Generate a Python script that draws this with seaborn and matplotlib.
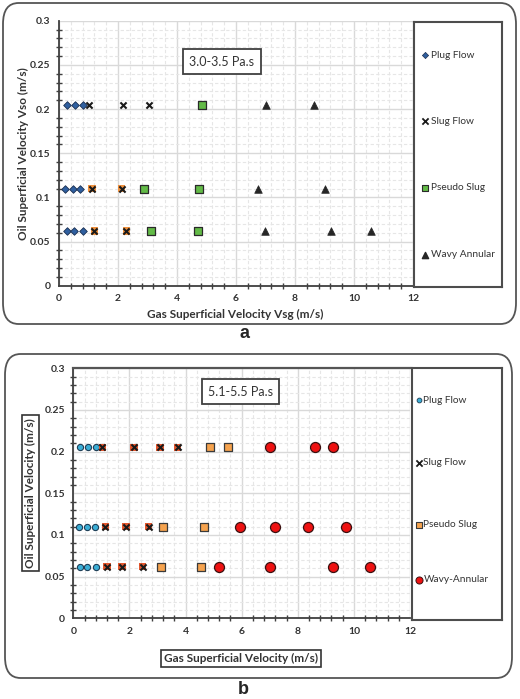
import matplotlib
matplotlib.use("Agg")
import matplotlib.pyplot as plt
import seaborn as sns
import pandas as pd
from matplotlib.patches import FancyBboxPatch
from matplotlib.ticker import MultipleLocator

sns.set_style("white")
plt.rcParams['font.family'] = ['Lato', 'DejaVu Sans']

# ---- data: panel a (3.0-3.5 Pa.s) ----
a_plug_x = [0.28, 0.54, 0.81, 0.21, 0.47, 0.72, 0.26, 0.51, 0.82]
a_plug_y = [0.205, 0.205, 0.205, 0.11, 0.11, 0.11, 0.062, 0.062, 0.062]
a_slug_x = [1.03, 2.16, 3.05, 1.12, 2.12, 1.20, 2.28]
a_slug_y = [0.205, 0.205, 0.205, 0.11, 0.11, 0.062, 0.062]
a_slug_filled = [False, False, False, True, True, True, True]
a_pseudo_x = [4.86, 2.87, 4.76, 3.12, 4.70]
a_pseudo_y = [0.205, 0.11, 0.11, 0.062, 0.062]
a_wavy_x = [7.03, 8.64, 6.73, 9.02, 6.99, 9.22, 10.57]
a_wavy_y = [0.205, 0.205, 0.11, 0.11, 0.062, 0.062, 0.062]

# ---- data: panel b (5.1-5.5 Pa.s) ----
b_plug_x = [0.24, 0.53, 0.82, 0.20, 0.48, 0.76, 0.24, 0.50, 0.82]
b_plug_y = [0.205, 0.205, 0.205, 0.11, 0.11, 0.11, 0.062, 0.062, 0.062]
b_slug_x = [1.03, 2.16, 3.09, 3.72, 1.14, 1.88, 2.69, 1.20, 1.74, 2.47]
b_slug_y = [0.205, 0.205, 0.205, 0.205, 0.11, 0.11, 0.11, 0.062, 0.062, 0.062]
b_slug_filled = [True] * 10
b_pseudo_x = [4.87, 5.51, 3.21, 4.66, 3.11, 4.54]
b_pseudo_y = [0.205, 0.205, 0.11, 0.11, 0.062, 0.062]
b_wavy_x = [7.02, 8.63, 9.26, 5.94, 7.18, 8.38, 9.72, 5.19, 7.01, 9.24, 10.58]
b_wavy_y = [0.205, 0.205, 0.205, 0.11, 0.11, 0.11, 0.11, 0.062, 0.062, 0.062, 0.062]

labels_a = ["Plug Flow", "Slug Flow", "Pseudo Slug", "Wavy Annular"]
labels_b = ["Plug Flow", "Slug Flow", "Pseudo Slug", "Wavy-Annular"]

fig = plt.figure(figsize=(5.2, 6.99), dpi=100)

W, H = 520, 699


def fx(px):
    return px / W


def fy(py):
    return 1 - py / H


# rounded outer boxes
for (x0, y0, x1, y1) in [(3, 3, 516, 324), (5, 354, 512, 678)]:
    box = FancyBboxPatch((fx(x0), fy(y1)), fx(x1 - x0), (y1 - y0) / H,
                         boxstyle="round,pad=0,rounding_size=0.03",
                         transform=fig.transFigure, fill=False,
                         edgecolor="#555555", linewidth=1.3, zorder=0)
    fig.patches.append(box)


def slug_plot(ax, xs, ys, filled, fill_color, size):
    df = pd.DataFrame({"x": xs, "y": ys, "f": filled})
    sub = df[df["f"]]
    if len(sub):
        sns.scatterplot(data=sub, x="x", y="y", marker="s", s=size,
                        color=fill_color, edgecolor="none", ax=ax, zorder=3)
    sns.scatterplot(data=df, x="x", y="y", marker="x", s=size * 0.7,
                    color="#1a1a1a", linewidth=1.5, ax=ax, zorder=4)


def style_axes(ax, x_lab, y_lab, boxed):
    ax.set_xlim(0, 12)
    ax.set_ylim(0, 0.3)
    ax.xaxis.set_major_locator(MultipleLocator(2))
    ax.xaxis.set_minor_locator(MultipleLocator(0.4))
    ax.yaxis.set_minor_locator(MultipleLocator(0.01))
    ax.set_yticks([0, 0.05, 0.1, 0.15, 0.2, 0.25, 0.3])
    ax.set_yticklabels(["0", "0.05", "0.1", "0.15", "0.2", "0.25", "0.3"])
    ax.grid(True, which="major", color="#d9d9d9", linewidth=1.0)
    ax.grid(True, which="minor", color="#e6e6e6", linewidth=0.8, linestyle=(0, (3, 2)))
    ax.set_axisbelow(True)
    for s in ["top", "right"]:
        ax.spines[s].set_visible(False)
    for s in ["left", "bottom"]:
        ax.spines[s].set_color("#404040")
        ax.spines[s].set_linewidth(1.3)
    ax.tick_params(which="major", direction="inout", length=6, width=1.1,
                   color="#404040", labelsize=7.5, pad=3)
    ax.tick_params(which="minor", direction="inout", length=4, width=1.0,
                   color="#404040", left=True, bottom=True)
    for t in ax.get_xticklabels() + ax.get_yticklabels():
        t.set_fontweight("bold")
        t.set_color("#333333")
    bbox = dict(boxstyle="square,pad=0.25", fc="white", ec="#333333", lw=1.2) if boxed else None
    ax.set_xlabel(x_lab, fontsize=8.5, fontweight="bold", color="#333333", bbox=bbox)
    ax.set_ylabel(y_lab, fontsize=8.5, fontweight="bold", color="#333333", bbox=bbox)


def legend_box(rect, entries, ys, mx, tx):
    lax = fig.add_axes(rect)
    lax.set_xlim(0, 1)
    lax.set_ylim(0, 1)
    lax.set_xticks([])
    lax.set_yticks([])
    for s in lax.spines.values():
        s.set_color("#4d4d4d")
        s.set_linewidth(1.5)
    for (lab, draw), yy in zip(entries, ys):
        draw(lax, mx, yy)
        lax.text(tx, yy, lab, fontsize=7.3, va="center", ha="left", color="#333333")
    return lax


# ---------------- panel a ----------------
ax1 = fig.add_axes([fx(59), fy(285.7), fx(413 - 59), (285.7 - 20.7) / H])
sns.scatterplot(x=a_plug_x, y=a_plug_y, marker="D", s=15, color="#2f5f9f",
                edgecolor="#1b2f50", linewidth=0.6, ax=ax1, zorder=3)
slug_plot(ax1, a_slug_x, a_slug_y, a_slug_filled, "#f0913e", 28)
sns.scatterplot(x=a_pseudo_x, y=a_pseudo_y, marker="s", s=26, color="#63bb47",
                edgecolor="#2a2a2a", linewidth=0.9, ax=ax1, zorder=3)
sns.scatterplot(x=a_wavy_x, y=a_wavy_y, marker="^", s=30, color="#262626",
                edgecolor="#262626", linewidth=0.5, ax=ax1, zorder=3)
style_axes(ax1, "Gas Superficial Velocity Vsg (m/s)",
           "Oil Superficial Velocity Vso (m/s)", False)
ax1.xaxis.set_label_coords(0.497, -0.088)
ax1.yaxis.set_label_coords(-0.085, 0.5)
ax1.text(0.46, 0.846, "3.0-3.5 Pa.s", transform=ax1.transAxes, fontsize=9,
         ha="center", va="center", color="#333333",
         bbox=dict(boxstyle="square,pad=0.5", fc="white", ec="#404040", lw=1.3))

entries_a = [
    (labels_a[0], lambda a, x, y: a.scatter([x], [y], marker="D", s=10, c="#2f5f9f", edgecolors="#1b2f50", linewidths=0.5)),
    (labels_a[1], lambda a, x, y: a.scatter([x], [y], marker="x", s=20, c="#1a1a1a", linewidths=1.3)),
    (labels_a[2], lambda a, x, y: a.scatter([x], [y], marker="s", s=18, c="#63bb47", edgecolors="#2a2a2a", linewidths=0.8)),
    (labels_a[3], lambda a, x, y: a.scatter([x], [y], marker="^", s=20, c="#262626")),
]
legend_box([fx(414), fy(287), fx(502 - 414), (287 - 22) / H], entries_a,
           [0.875, 0.626, 0.374, 0.121], 0.125, 0.19)
fig.text(fx(245), fy(334), "a", fontsize=13, fontweight="bold", ha="center",
         va="center", family=["Liberation Sans", "DejaVu Sans"])

# ---------------- panel b ----------------
ax2 = fig.add_axes([fx(73.3), fy(618.3), fx(410 - 73.3), (618.3 - 368.3) / H])
sns.scatterplot(x=b_plug_x, y=b_plug_y, marker="o", s=20, color="#3aaed6",
                edgecolor="#1d3d55", linewidth=0.8, ax=ax2, zorder=3)
slug_plot(ax2, b_slug_x, b_slug_y, b_slug_filled, "#e4572e", 28)
sns.scatterplot(x=b_pseudo_x, y=b_pseudo_y, marker="s", s=30, color="#f6a34e",
                edgecolor="#3a3a3a", linewidth=0.9, ax=ax2, zorder=3)
sns.scatterplot(x=b_wavy_x, y=b_wavy_y, marker="o", s=52, color="#ee1111",
                edgecolor="#3a1010", linewidth=0.9, ax=ax2, zorder=3)
style_axes(ax2, "Gas Superficial Velocity (m/s)",
           "Oil Superficial Velocity (m/s)", True)
ax2.spines["top"].set_visible(True)
ax2.spines["top"].set_color("#555555")
ax2.spines["top"].set_linewidth(1.6)
ax2.xaxis.set_label_coords(0.498, -0.14)
ax2.yaxis.set_label_coords(-0.11, 0.5)
ax2.text(0.497, 0.907, "5.1-5.5 Pa.s", transform=ax2.transAxes, fontsize=9,
         ha="center", va="center", color="#333333",
         bbox=dict(boxstyle="square,pad=0.5", fc="white", ec="#404040", lw=1.3))

entries_b = [
    (labels_b[0], lambda a, x, y: a.scatter([x], [y], marker="o", s=12, c="#3aaed6", edgecolors="#1d3d55", linewidths=0.6)),
    (labels_b[1], lambda a, x, y: a.scatter([x], [y], marker="x", s=20, c="#1a1a1a", linewidths=1.3)),
    (labels_b[2], lambda a, x, y: a.scatter([x], [y], marker="s", s=20, c="#f6a34e", edgecolors="#3a3a3a", linewidths=0.8)),
    (labels_b[3], lambda a, x, y: a.scatter([x], [y], marker="o", s=26, c="#ee1111", edgecolors="#3a1010", linewidths=0.7)),
]
legend_box([fx(411.7), fy(620), fx(501.7 - 411.7), (620 - 368) / H], entries_b,
           [0.873, 0.624, 0.377, 0.159], 0.08, 0.13)
fig.text(fx(243), fy(690), "b", fontsize=13, fontweight="bold", ha="center",
         va="center", family=["Liberation Sans", "DejaVu Sans"])

fig.savefig("out.png", dpi=100)
